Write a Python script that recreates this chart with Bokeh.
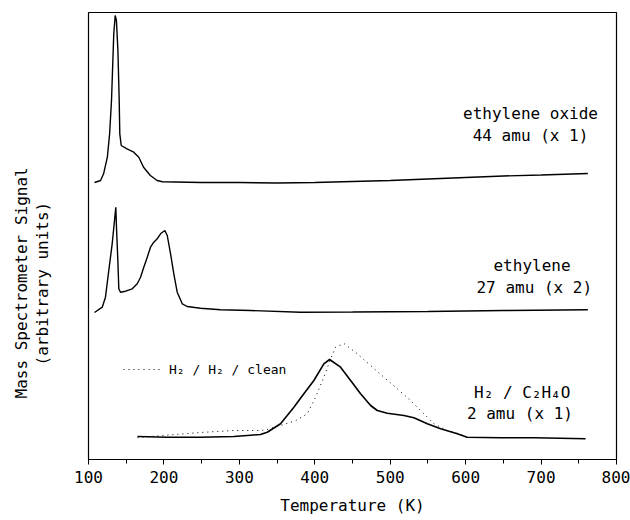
from bokeh.plotting import figure
from bokeh.models import Range1d, FixedTicker, Label, Legend, LegendItem, Title
from bokeh.embed import file_html
from bokeh.resources import INLINE

# Temperature (K) and signal (arbitrary units)
eo_T = [108, 116, 120, 125, 128, 130.5, 132, 133.5, 135.4, 137, 139, 140.7, 141.5, 143.4, 151, 160,
        166.7, 173, 182, 191, 198, 250, 300, 350, 400, 450, 500, 550, 600, 650, 700, 762]
eo_y = [277, 279, 285.7, 302.3, 325.7, 359, 392.3, 425.7, 444, 439, 409, 359, 325.7, 314, 310.7, 307.3,
        302.3, 292.3, 284, 279, 277.7, 277, 277, 276.5, 277, 278, 279, 280.5, 282, 283.5, 284.5, 286]

eth_T = [108, 118.2, 122.5, 126.9, 131.4, 133.6, 136.2, 137.1, 138.9, 140.2, 142.4, 149.1, 158, 164.6,
         169, 173.3, 177.9, 182.2, 186.6, 191.1, 195.5, 201.2, 204.4, 208.8, 213.1, 217.6, 224.3, 230.9,
         248.5, 275, 315, 381, 450, 550, 650, 762]
eth_y = [147, 152.3, 162.3, 189, 215.7, 232.3, 252.3, 232.3, 199, 170.7, 167.3, 168.3, 170.7, 175.7,
         182.3, 192.3, 202.3, 212.3, 217.3, 220.7, 225.7, 229, 224, 205.7, 185.7, 167.3, 155.7, 153,
         151.3, 149.7, 149, 147.3, 147.5, 148, 149, 149.7]

h2_T = [165, 204, 248.5, 292.7, 315, 328, 337, 354.6, 372.3, 385.5, 398.8, 412, 419.6, 434.2, 447.5,
        460.7, 474, 482.9, 496.2, 518.2, 531.4, 549.2, 566.8, 589, 602, 646, 691, 759]
h2_y = [23, 22.3, 22.3, 23, 24.3, 25, 27.3, 35.7, 52.3, 65.7, 79, 95.7, 100, 92.3, 79,
        65.7, 54, 49, 46.3, 44, 41.7, 35.7, 30.7, 25.7, 22.3, 21.7, 21.7, 20.7]

clean_T = [165, 248.5, 292.7, 328, 337, 354.6, 375, 390, 401, 412, 421, 427.5, 438.6, 456.4, 474,
           491.6, 509.4, 527, 544.7, 558, 575.7, 593.4, 602]
clean_y = [22, 27, 29, 29, 30, 34, 39, 45.7, 62.3, 82.3, 100.7, 112.3, 116, 105.7, 94,
           82.3, 70.7, 59, 45.7, 35.7, 29, 25, 22.3]

x_ticks = [100, 200, 300, 400, 500, 600, 700, 800]
x_minor = [150, 250, 350, 450, 550, 650, 750]

FONT = "DejaVu Sans Mono"

p = figure(width=630, height=520, output_backend="svg", toolbar_location=None,
           x_range=Range1d(100, 800), y_range=Range1d(0, 447),
           min_border_left=88, min_border_right=14, min_border_top=12, min_border_bottom=61)
p.grid.visible = False
p.outline_line_color = "black"
p.outline_line_width = 1.2
p.background_fill_color = "white"
p.border_fill_color = "white"

p.line(eo_T, eo_y, line_color="black", line_width=1.4)
p.line(eth_T, eth_y, line_color="black", line_width=1.4)
p.line(h2_T, h2_y, line_color="black", line_width=1.6)
r_clean = p.line(clean_T, clean_y, line_color="black", line_width=1.0, line_dash="1 4")

# x axis
xa = p.xaxis[0]
xa.ticker = FixedTicker(ticks=x_ticks, minor_ticks=x_minor)
xa.major_tick_in = 0
xa.major_tick_out = 5
xa.minor_tick_in = 0
xa.minor_tick_out = 4
xa.axis_line_color = "black"
xa.major_label_text_font = FONT
xa.major_label_text_font_size = "16px"
xa.major_label_text_color = "black"
xa.major_label_standoff = 6
xa.axis_label = "Temperature (K)"
xa.axis_label_text_font = FONT
xa.axis_label_text_font_size = "16px"
xa.axis_label_text_font_style = "normal"
xa.axis_label_text_color = "black"
xa.axis_label_standoff = 10

p.yaxis.visible = False

# y-axis title, two rotated lines; an empty spacer title sits next to the frame
t0 = Title(text=" ", standoff=16, text_font=FONT, text_font_size="16px")
t2 = Title(text="(arbitrary units)", align="left", offset=94, standoff=0,
           text_font=FONT, text_font_size="16px", text_font_style="normal", text_color="black")
t1 = Title(text="Mass Spectrometer Signal", align="left", offset=61, standoff=0,
           text_font=FONT, text_font_size="16px", text_font_style="normal", text_color="black")
p.add_layout(t0, "left")
p.add_layout(t2, "left")
p.add_layout(t1, "left")

def lab(x, y, t, size="16px"):
    p.add_layout(Label(x=x, y=y, text=t, text_font=FONT, text_font_size=size,
                       text_align="center", text_baseline="middle", text_color="black"))

lab(686, 346, "ethylene oxide")
lab(686, 324, "44 amu (x 1)")
lab(688, 194, "ethylene")
lab(691, 172, "27 amu (x 2)")
lab(675, 67, "H\u2082 / C\u2082H\u2084O")
lab(672, 46, "2 amu (x 1)")

legend = Legend(items=[LegendItem(label="H\u2082 / H\u2082 / clean", renderers=[r_clean])],
                location=(35, 82), border_line_color=None, background_fill_alpha=0,
                padding=0, margin=0, spacing=0, glyph_width=40, glyph_height=16,
                label_standoff=6, label_text_font=FONT, label_text_font_size="13px",
                label_text_color="black")
p.add_layout(legend)

open("out.html", "w").write(file_html(p, INLINE))
